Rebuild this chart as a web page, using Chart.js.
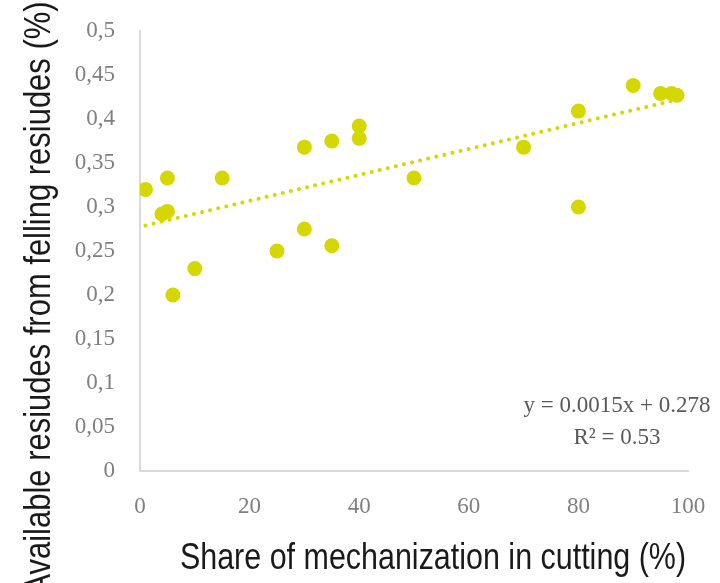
<!DOCTYPE html>
<html lang="en">
<head>
  <meta charset="UTF-8" />
  <title>Mechanization vs available residues</title>
  <script src="https://cdn.jsdelivr.net/npm/chart.js"></script>
  <style>
    body { margin: 0; padding: 0; background: #fff; }
    #wrap { width: 720px; height: 583px; position: relative; }
  </style>
</head>
<body>
  <div id="wrap"><canvas id="chart"></canvas></div>

  <script>
    // ---- data ----
    const mechShare = [1, 4, 5, 5, 6, 10, 15, 25, 30, 30, 35, 35, 40, 40, 50, 70, 80, 80, 90, 95, 97, 98];
    const residues  = [0.32, 0.292, 0.295, 0.333, 0.2, 0.23, 0.333, 0.25, 0.275, 0.368, 0.256, 0.375,
                       0.378, 0.392, 0.333, 0.368, 0.3, 0.409, 0.438, 0.429, 0.429, 0.427];
    const trendX = [1, 98];
    const trendY = [0.279, 0.422];
    const xTicks = [0, 20, 40, 60, 80, 100];
    const yTicks = [0, 0.05, 0.1, 0.15, 0.2, 0.25, 0.3, 0.35, 0.4, 0.45, 0.5];

    const xTitle = 'Share of mechanization in cutting (%)';
    const yTitle = 'Available resiudes from felling resiudes (%)';
    const eqLines = ['y = 0.0015x + 0.278', 'R² = 0.53'];

    const lime = '#d5d700';
    const serif = "'Liberation Serif', 'Times New Roman', serif";
    const sans = "'Liberation Sans', Arial, sans-serif";

    // axis titles are a narrow sans, so squeeze Liberation Sans a bit
    function narrowText(ctx, text, x, y, rot, squeeze) {
      ctx.save();
      ctx.translate(x, y);
      ctx.rotate(rot);
      ctx.scale(squeeze, 1);
      ctx.fillText(text, 0, 0);
      ctx.restore();
    }

    const textPlugin = {
      id: 'textPlugin',
      afterDraw(chart) {
        const ctx = chart.ctx;
        ctx.save();
        ctx.fillStyle = '#1a1a1a';
        ctx.font = '36px ' + sans;
        ctx.textAlign = 'center';
        ctx.textBaseline = 'alphabetic';
        narrowText(ctx, xTitle, 433, 569, 0, 0.846);
        narrowText(ctx, yTitle, 50, 298, -Math.PI / 2, 0.86);

        ctx.fillStyle = '#595959';
        ctx.font = '23px ' + serif;
        ctx.textBaseline = 'middle';
        ctx.fillText(eqLines[0], 617, 406);
        ctx.fillText(eqLines[1], 617, 438);
        ctx.restore();
      }
    };

    const fmt = v => String(Math.round(v * 100) / 100).replace('.', ',');

    new Chart(document.getElementById('chart'), {
      type: 'scatter',
      data: {
        datasets: [
          {
            label: 'Trend',
            type: 'line',
            data: trendX.map((x, i) => ({ x: x, y: trendY[i] })),
            borderColor: lime,
            borderWidth: 4,
            borderDash: [0.001, 8.3],
            borderCapStyle: 'round',
            pointRadius: 0,
            fill: false,
            order: 2
          },
          {
            label: 'Residues',
            data: mechShare.map((x, i) => ({ x: x, y: residues[i] })),
            backgroundColor: lime,
            borderColor: lime,
            pointRadius: 7.5,
            pointBorderWidth: 0,
            order: 1
          }
        ]
      },
      options: {
        responsive: true,
        maintainAspectRatio: false,
        animation: false,
        layout: { padding: { top: 31, right: 32, left: 0, bottom: 0 } },
        plugins: {
          legend: { display: false },
          tooltip: { enabled: false }
        },
        scales: {
          x: {
            type: 'linear',
            min: 0,
            max: 100,
            afterFit: s => { s.height = 112; s.paddingLeft = 0; s.paddingRight = 0; },
            afterBuildTicks: s => { s.ticks = xTicks.map(v => ({ value: v })); },
            grid: { display: false, drawTicks: false },
            border: { display: true, color: '#d9d9d9', width: 2 },
            ticks: {
              color: '#7f7f7f',
              font: { family: serif, size: 23 },
              padding: 22,
              callback: v => String(v)
            }
          },
          y: {
            type: 'linear',
            min: 0,
            max: 0.5,
            afterFit: s => { s.width = 140; s.paddingTop = 0; s.paddingBottom = 0; },
            afterBuildTicks: s => { s.ticks = yTicks.map(v => ({ value: v })); },
            grid: { display: false, drawTicks: false },
            border: { display: true, color: '#d9d9d9', width: 2 },
            ticks: {
              color: '#7f7f7f',
              font: { family: serif, size: 23 },
              padding: 25,
              callback: v => fmt(v)
            }
          }
        }
      },
      plugins: [textPlugin]
    });
  </script>
</body>
</html>
